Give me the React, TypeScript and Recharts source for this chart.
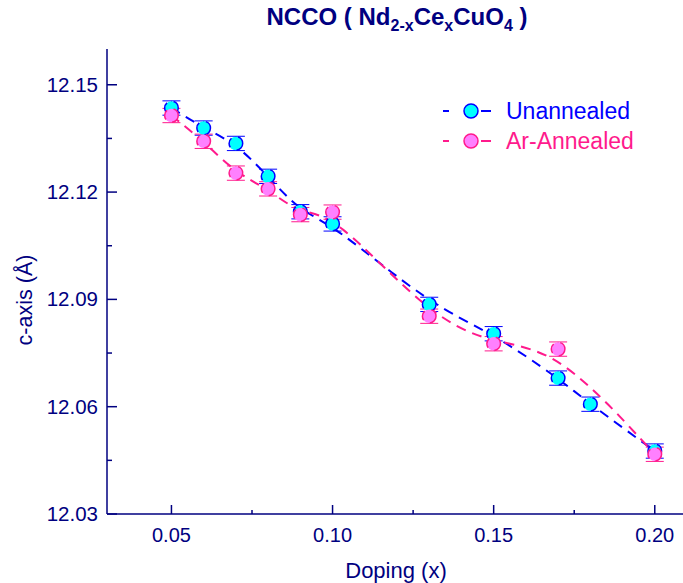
import { LineChart, Line, XAxis, YAxis, ErrorBar, Legend } from "recharts";

// Doping level x and measured c-axis (Å)
const dopingUnannealed = [0.05, 0.06, 0.07, 0.08, 0.09, 0.1, 0.13, 0.15, 0.17, 0.18, 0.2];
const cAxisUnannealed = [12.1435, 12.1379, 12.1336, 12.1244, 12.1145, 12.1111, 12.0886, 12.0804, 12.068, 12.0607, 12.0476];
const dopingAnnealed = [0.05, 0.06, 0.07, 0.08, 0.09, 0.1, 0.13, 0.15, 0.17, 0.2];
const cAxisAnnealed = [12.1414, 12.1342, 12.1253, 12.1209, 12.1137, 12.1144, 12.0853, 12.0776, 12.0761, 12.0467];
const errUnannealed = [0.002, 0.002, 0.002, 0.002, 0.002, 0.002, 0.002, 0.002, 0.002, 0.002, 0.002];
const errAnnealed = [0.002, 0.002, 0.002, 0.002, 0.002, 0.002, 0.002, 0.002, 0.002, 0.002];

const xMajor = [0.05, 0.1, 0.15, 0.2];
const xMinor = [0.075, 0.125, 0.175];
const yMajor = [12.03, 12.06, 12.09, 12.12, 12.15];
const yMinor = [12.045, 12.075, 12.105, 12.135];

const unannealed = dopingUnannealed.map((x, i) => ({ x, c: cAxisUnannealed[i], err: errUnannealed[i] }));
const annealed = dopingAnnealed.map((x, i) => ({ x, c: cAxisAnnealed[i], err: errAnnealed[i] }));

const NAVY = "#000080";
const BLUE = "#0000ff";
const CYAN = "#00ffff";
const PINK = "#ff1a8c";
const PINK_FILL = "#ff80ff";
const FONT = "'Liberation Sans', Arial, sans-serif";

const isIn = (list: number[], v: number) => list.some((m) => Math.abs(m - v) < 1e-9);

const XTick = (props: any) => {
  const { x, y, payload } = props;
  const major = isIn(xMajor, payload.value);
  return (
    <g>
      <line x1={x} x2={x} y1={y} y2={y - (major ? 9 : 4)} stroke={NAVY} strokeWidth={1.5} />
      {major && (
        <text x={x} y={y + 28} textAnchor="middle" fontSize={20} fill={NAVY} fontFamily={FONT}>
          {payload.value.toFixed(2)}
        </text>
      )}
    </g>
  );
};

const YTick = (props: any) => {
  const { x, y, payload } = props;
  const major = isIn(yMajor, payload.value);
  return (
    <g>
      <line x1={x} x2={x + (major ? 10 : 5)} y1={y} y2={y} stroke={NAVY} strokeWidth={1.5} />
      {major && (
        <text x={x - 9} y={y + 7} textAnchor="end" fontSize={20.5} fill={NAVY} fontFamily={FONT}>
          {payload.value.toFixed(2)}
        </text>
      )}
    </g>
  );
};

const YTitle = () => (
  <text x={25} y={300} transform="rotate(-90 25 300)" textAnchor="middle" dominantBaseline="central" fontSize={21.5} fill={NAVY} fontFamily={FONT}>
    c-axis (Å)
  </text>
);

const XTitle = () => (
  <text x={396} y={578} textAnchor="middle" fontSize={22} fill={NAVY} fontFamily={FONT}>
    Doping (x)
  </text>
);

const legendItems = [
  { name: "Unannealed", stroke: BLUE, fill: CYAN },
  { name: "Ar-Annealed", stroke: PINK, fill: PINK_FILL },
];

const LegendBox = () => (
  <div style={{ fontFamily: FONT }}>
    {legendItems.map((it) => (
      <div key={it.name} style={{ display: "flex", alignItems: "center", height: 30 }}>
        <svg width={52} height={20}>
          <line x1={2} x2={8} y1={10} y2={10} stroke={it.stroke} strokeWidth={2} />
          <circle cx={30} cy={10} r={7} fill={it.fill} stroke={it.stroke} strokeWidth={1.5} />
          <line x1={40} x2={50} y1={10} y2={10} stroke={it.stroke} strokeWidth={2} />
        </svg>
        <span style={{ color: it.stroke, fontSize: 23, marginLeft: 13 }}>{it.name}</span>
      </div>
    ))}
  </div>
);

export default function App() {
  return (
    <div style={{ position: "absolute", left: 0, top: 0, width: 683, height: 583, overflow: "hidden", background: "#fff" }}>
      <div
        style={{
          position: "absolute",
          left: 0,
          top: 2,
          width: 683,
          textAlign: "center",
          paddingLeft: 111,
          boxSizing: "border-box",
          fontFamily: FONT,
          fontWeight: "bold",
          fontSize: 24,
          color: NAVY,
          lineHeight: "30px",
          whiteSpace: "pre",
        }}
      >
        {"NCCO ( Nd"}
        <sub style={{ fontSize: 16 }}>2-x</sub>Ce<sub style={{ fontSize: 16 }}>x</sub>CuO
        <sub style={{ fontSize: 16 }}>4</sub>
        {" )"}
      </div>
      <LineChart width={700} height={583} margin={{ top: 49, right: 13, left: 0, bottom: 0 }}>
        <XAxis
          xAxisId="top"
          orientation="top"
          type="number"
          dataKey="x"
          domain={[0.03, 0.21]}
          allowDataOverflow
          height={0}
          tick={false}
          tickLine={false}
          axisLine={{ stroke: NAVY, strokeWidth: 1.5 }}
        />
        <XAxis
          type="number"
          dataKey="x"
          domain={[0.03, 0.21]}
          allowDataOverflow
          ticks={[...xMajor, ...xMinor].sort((a, b) => a - b)}
          interval={0}
          height={69}
          tickSize={0}
          tickMargin={0}
          tickLine={false}
          tick={<XTick />}
          axisLine={{ stroke: NAVY, strokeWidth: 1.5 }}
          label={<XTitle />}
        />
        <YAxis
          type="number"
          domain={[12.03, 12.16]}
          allowDataOverflow
          ticks={[...yMajor, ...yMinor].sort((a, b) => a - b)}
          interval={0}
          width={107}
          tickSize={0}
          tickMargin={0}
          tickLine={false}
          tick={<YTick />}
          axisLine={{ stroke: NAVY, strokeWidth: 1.5 }}
          label={<YTitle />}
        />
        <Legend
          layout="vertical"
          align="center"
          verticalAlign="middle"
          content={<LegendBox />}
          wrapperStyle={{ position: "absolute", left: 441, top: 96, width: 240 }}
        />
        <Line
          data={unannealed}
          dataKey="c"
          name="Unannealed"
          type="basis"
          stroke={BLUE}
          strokeWidth={2}
          strokeDasharray="10 7"
          dot={{ r: 6.8, fill: CYAN, stroke: BLUE, strokeWidth: 1.5 }}
          isAnimationActive={false}
        >
          <ErrorBar dataKey="err" direction="y" width={9} stroke={BLUE} strokeWidth={1} />
        </Line>
        <Line
          data={annealed}
          dataKey="c"
          name="Ar-Annealed"
          type="basis"
          stroke={PINK}
          strokeWidth={2}
          strokeDasharray="10 7"
          dot={{ r: 6.8, fill: PINK_FILL, stroke: PINK, strokeWidth: 1.5 }}
          isAnimationActive={false}
        >
          <ErrorBar dataKey="err" direction="y" width={9} stroke={PINK} strokeWidth={1} />
        </Line>
      </LineChart>
    </div>
  );
}
